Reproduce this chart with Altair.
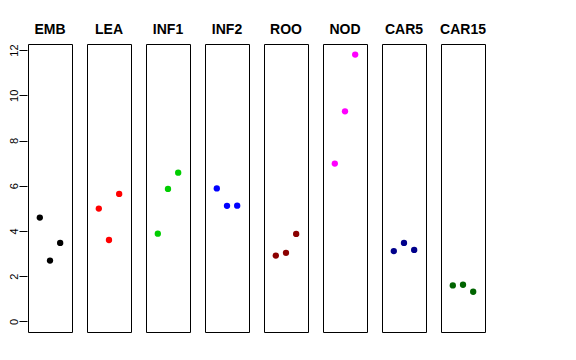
import altair as alt
import pandas as pd

panels = ["EMB", "LEA", "INF1", "INF2", "ROO", "NOD", "CAR5", "CAR15"]
colors = ["#000000", "#FF0000", "#00CD00", "#0000FF", "#8B0000", "#FF00FF", "#00008B", "#006400"]
positions = [1, 2, 3]
values = {
    "EMB": [4.59, 2.69, 3.47],
    "LEA": [4.99, 3.60, 5.64],
    "INF1": [3.88, 5.86, 6.58],
    "INF2": [5.88, 5.11, 5.12],
    "ROO": [2.91, 3.03, 3.87],
    "NOD": [6.98, 9.29, 11.80],
    "CAR5": [3.11, 3.47, 3.16],
    "CAR15": [1.59, 1.62, 1.31],
}

rows = []
for p in panels:
    for x, v in zip(positions, values[p]):
        rows.append({"panel": p, "x": x, "value": v})
df = pd.DataFrame(rows)

base = alt.Chart(df).mark_circle(size=40, opacity=1).encode(
    x=alt.X("x:Q", scale=alt.Scale(domain=[-0.16, 4.16], nice=False), axis=None),
    y=alt.Y("value:Q", scale=alt.Scale(domain=[-0.47, 12.27], nice=False, zero=False),
            axis=alt.Axis(values=[0, 2, 4, 6, 8, 10, 12], title=None, grid=False, domain=False,
                          tickSize=8, tickColor="#000000", labelAngle=270, labelAlign="center",
                          labelBaseline="bottom", labelPadding=0, labelFontSize=11,
                          labelFont="Liberation Sans", labelColor="#000000")),
    color=alt.Color("panel:N", scale=alt.Scale(domain=panels, range=colors), legend=None),
).properties(width=44, height=288)

chart = base.facet(
    column=alt.Column("panel:N", sort=panels,
                      header=alt.Header(title=None, labelFontWeight="bold", labelFontSize=14,
                                        labelFont="Liberation Sans", labelColor="#000000",
                                        labelPadding=6)),
    spacing=13,
).configure_view(stroke="#000000", strokeWidth=1).properties(
    background="white", padding={"left": 0, "top": 15, "right": 5, "bottom": 5})

chart.save("out.html", embed_options={"renderer": "svg", "actions": False})
